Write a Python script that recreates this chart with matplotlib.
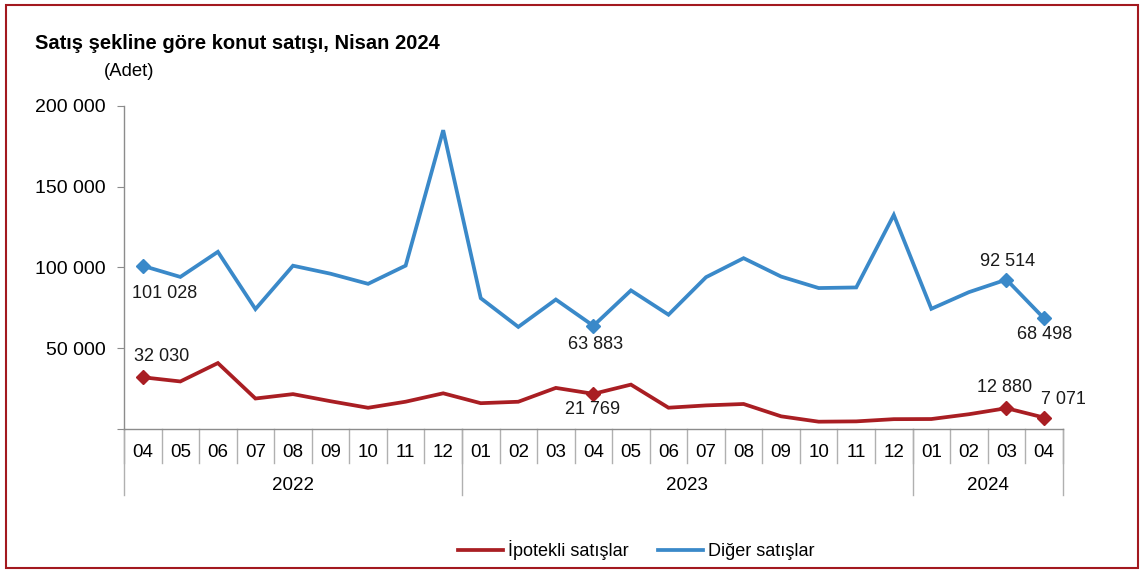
import matplotlib
matplotlib.use("Agg")
import matplotlib.pyplot as plt
import matplotlib.ticker as mticker
from matplotlib.patches import Rectangle

plt.rcParams["font.family"] = ["Liberation Sans", "DejaVu Sans"]

months = ["04", "05", "06", "07", "08", "09", "10", "11", "12",
          "01", "02", "03", "04", "05", "06", "07", "08", "09", "10", "11", "12",
          "01", "02", "03", "04"]
years = ["2022", "2023", "2024"]
year_counts = [9, 12, 4]

ipotekli = [32030, 29434, 40809, 18870, 21591, 17199, 13134, 16897, 22100,
            15979, 16867, 25445, 21769, 27473, 13175, 14603, 15483, 7837, 4520, 4717, 6085,
            6167, 9142, 12880, 7071]
diger = [101028, 94155, 109700, 74228, 101103, 96141, 89879, 101152, 185000,
         81000, 63204, 80159, 63883, 85803, 70764, 94000, 105762, 94361, 87267, 87646, 132513,
         74418, 84726, 92514, 68498]

labeled = [0, 12, 23, 24]
RED = "#A91E23"
BLUE = "#3A89C9"
GRAY = "#8C8C8C"

fig = plt.figure(figsize=(11.44, 5.71), dpi=100)
ax = fig.add_axes([0.1084, 0.2487, 0.8206, 0.5657])

x = list(range(len(months)))
ax.plot(x, ipotekli, color=RED, linewidth=2.7, label="İpotekli satışlar", solid_joinstyle="miter")
ax.plot(x, diger, color=BLUE, linewidth=2.7, label="Diğer satışlar", solid_joinstyle="miter")
ax.plot([x[i] for i in labeled], [ipotekli[i] for i in labeled], "D", color=RED, markersize=7, linestyle="none")
ax.plot([x[i] for i in labeled], [diger[i] for i in labeled], "D", color=BLUE, markersize=7, linestyle="none")


def fmt(v):
    return f"{v:,}".replace(",", " ")


# data label offsets in pixels
red_off = {0: (19, 21), 12: (-1, -16), 23: (-2, 21), 24: (19, 18)}
blue_off = {0: (22, -28), 12: (2, -19), 23: (1, 18), 24: (1, -16)}
for i in labeled:
    ax.annotate(fmt(ipotekli[i]), (x[i], ipotekli[i]), xytext=red_off[i], textcoords="offset pixels",
                ha="center", va="center", fontsize=13, color="#1a1a1a")
    ax.annotate(fmt(diger[i]), (x[i], diger[i]), xytext=blue_off[i], textcoords="offset pixels",
                ha="center", va="center", fontsize=13, color="#1a1a1a")

ax.set_xlim(-0.5, len(months) - 0.5)
ax.set_ylim(0, 200000)
ax.set_yticks([0, 50000, 100000, 150000, 200000])
ax.yaxis.set_major_formatter(mticker.FuncFormatter(lambda v, p: "" if v == 0 else fmt(int(v))))
ax.tick_params(axis="y", length=5, color=GRAY, labelsize=14, pad=8)
ax.set_xticks(x)
ax.set_xticklabels(months)
ax.tick_params(axis="x", length=0, labelsize=13.5, pad=11)

for s in ["top", "right"]:
    ax.spines[s].set_visible(False)
for s in ["left", "bottom"]:
    ax.spines[s].set_color(GRAY)
    ax.spines[s].set_linewidth(1)

# category separators below the axis
tr = ax.get_xaxis_transform()
for i in range(len(months) + 1):
    ax.plot([i - 0.5, i - 0.5], [0, -0.105], transform=tr, color="#B0B0B0", linewidth=1, clip_on=False)
start = 0
for yr, n in zip(years, year_counts):
    ax.plot([start - 0.5, start - 0.5], [0, -0.205], transform=tr, color="#B0B0B0", linewidth=1, clip_on=False)
    ax.text(start + (n - 1) / 2, -0.175, yr, transform=tr, ha="center", va="center", fontsize=13.5)
    start += n
ax.plot([start - 0.5, start - 0.5], [0, -0.205], transform=tr, color="#B0B0B0", linewidth=1, clip_on=False)

fig.text(0.031, 0.923, "Satış şekline göre konut satışı, Nisan 2024", fontsize=14.5, fontweight="bold",
         ha="left", va="center")
fig.text(0.091, 0.874, "(Adet)", fontsize=13.3, ha="left", va="center")

fig.legend(loc="center", bbox_to_anchor=(0.556, 0.037), ncol=2, frameon=False, fontsize=13,
           handlelength=2.5, handletextpad=0.3, columnspacing=1.6)

fig.add_artist(Rectangle((0.005, 0.005), 0.99, 0.987, transform=fig.transFigure, fill=False,
                         edgecolor="#A3191F", linewidth=1.5))

fig.savefig("out.png", dpi=100)
